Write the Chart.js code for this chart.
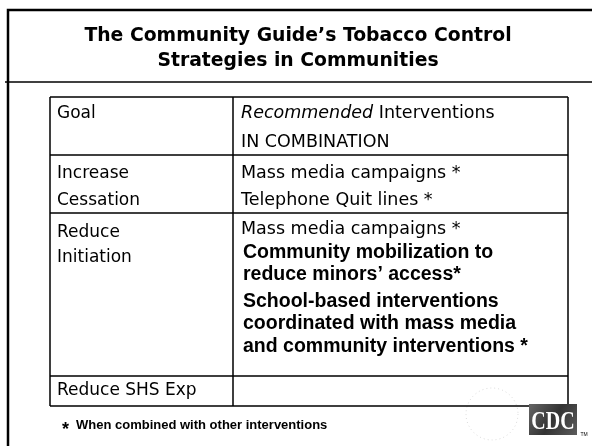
<!DOCTYPE html>
<html>
<head>
<meta charset="utf-8">
<script src="https://cdn.jsdelivr.net/npm/chart.js@4"></script>
<style>
  html, body { margin: 0; padding: 0; background: #fff; }
  #wrap { width: 592px; height: 446px; position: relative; }
</style>
</head>
<body>
<div id="wrap"><canvas id="slide" width="592" height="446"></canvas></div>
<script>
// slide content
const titleLines = ['The Community Guide\u2019s Tobacco Control', 'Strategies in Communities'];
const goals = [['Goal'], ['Increase', 'Cessation'], ['Reduce', 'Initiation'], ['Reduce SHS Exp']];
// "_x_" = italic span, leading "!" = bold Arial line
const interventions = [
    ['_Recommended_ Interventions', 'IN COMBINATION'],
    ['Mass media campaigns *', 'Telephone Quit lines *'],
    ['Mass media campaigns *', '!Community mobilization to', '!reduce minors\u2019 access*',
     '!School-based interventions', '!coordinated with mass media', '!and community interventions *'],
    []
];
const footnote = ['*', 'When combined with other interventions'];

// table layout (slide units)
const rowEdges = [97, 155, 213, 376, 406];
const colEdges = [50, 233, 568];
const goalBaselines = [[21, 50], [23, 50], [24, 49], [19]];
const intBaselines = [[21, 50], [23, 50], [21, 45, 67, 94, 116, 139], []];

const regFont = '"DejaVu Sans", sans-serif';
const boldFont = '"Liberation Sans", Arial, sans-serif';

function drawRich(ctx, str, x, y, size) {
    let parts = str.split('_');
    parts.forEach((p, i) => {
        ctx.font = (i % 2 ? 'italic ' : '') + size + 'px ' + regFont;
        ctx.fillText(p, x, y);
        x += ctx.measureText(p).width;
    });
}

const slidePlugin = {
    id: 'slide',
    afterDraw(chart) {
        const ctx = chart.ctx;
        const sx = chart.scales.x, sy = chart.scales.y;
        const X = v => sx.getPixelForValue(v);
        const Y = v => sy.getPixelForValue(v);
        ctx.save();
        ctx.fillStyle = '#000';
        ctx.strokeStyle = '#000';
        ctx.textBaseline = 'alphabetic';

        // outer frame
        ctx.lineWidth = 2.5;
        ctx.beginPath();
        ctx.moveTo(X(8), Y(446)); ctx.lineTo(X(8), Y(10)); ctx.lineTo(X(592), Y(10));
        ctx.stroke();
        ctx.lineWidth = 1.5;
        ctx.beginPath();
        ctx.moveTo(X(5), Y(82)); ctx.lineTo(X(592), Y(82));
        ctx.stroke();

        // title
        ctx.font = 'bold 18.8px "DejaVu Sans", sans-serif';
        ctx.textAlign = 'center';
        ctx.fillText(titleLines[0], X(298), Y(41));
        ctx.fillText(titleLines[1], X(298), Y(66));
        ctx.textAlign = 'left';

        // table grid
        ctx.lineWidth = 1.5;
        ctx.beginPath();
        rowEdges.forEach(r => { ctx.moveTo(X(colEdges[0]), Y(r)); ctx.lineTo(X(colEdges[2]), Y(r)); });
        colEdges.forEach(c => { ctx.moveTo(X(c), Y(rowEdges[0])); ctx.lineTo(X(c), Y(rowEdges[rowEdges.length - 1])); });
        ctx.stroke();

        // cells
        goals.forEach((lines, r) => {
            lines.forEach((t, i) => {
                ctx.font = '17px ' + regFont;
                ctx.fillText(t, X(colEdges[0] + 7), Y(rowEdges[r] + goalBaselines[r][i]));
            });
        });
        interventions.forEach((lines, r) => {
            lines.forEach((t, i) => {
                const y = Y(rowEdges[r] + intBaselines[r][i]);
                if (t[0] === '!') {
                    ctx.font = 'bold 19.5px ' + boldFont;
                    ctx.fillText(t.slice(1), X(colEdges[1] + 10), y);
                } else {
                    drawRich(ctx, t, X(colEdges[1] + 8), y, 17.5);
                }
            });
        });

        // footnote
        ctx.font = 'bold 18px ' + boldFont;
        ctx.fillText(footnote[0], X(62), Y(435));
        ctx.font = 'bold 13px ' + boldFont;
        ctx.fillText(footnote[1], X(76), Y(429));

        // faint seal behind logo
        ctx.strokeStyle = 'rgba(0,0,0,0.15)';
        ctx.setLineDash([1, 3]);
        ctx.lineWidth = 1;
        ctx.beginPath();
        ctx.arc(X(492), Y(414), 26, 0, Math.PI * 2);
        ctx.stroke();
        ctx.setLineDash([]);

        // CDC logo
        const lx = X(529), ly = Y(404), lw = X(577) - lx, lh = Y(435) - ly;
        const g = ctx.createLinearGradient(lx, ly, lx + lw, ly + lh);
        g.addColorStop(0, '#666');
        g.addColorStop(0.5, '#333');
        g.addColorStop(1, '#5c5c5c');
        ctx.fillStyle = g;
        ctx.fillRect(lx, ly, lw, lh);
        ctx.fillStyle = '#fff';
        ctx.font = 'bold 25px "Liberation Serif", serif';
        ctx.textAlign = 'center';
        ctx.save();
        ctx.translate(lx + lw / 2, ly + lh - 6);
        ctx.scale(0.8, 1);
        ctx.fillText('CDC', 0, 0);
        ctx.restore();
        ctx.fillStyle = '#000';
        ctx.font = '5px ' + boldFont;
        ctx.fillText('TM', X(584), Y(436));
        ctx.restore();
    }
};

new Chart(document.getElementById('slide').getContext('2d'), {
    type: 'scatter',
    data: { datasets: [{ data: [] }] },
    options: {
        responsive: false,
        animation: false,
        devicePixelRatio: 1,
        layout: { padding: 0 },
        plugins: { legend: { display: false }, tooltip: { enabled: false } },
        scales: {
            x: { type: 'linear', min: 0, max: 592, display: false },
            y: { type: 'linear', min: 0, max: 446, reverse: true, display: false }
        }
    },
    plugins: [slidePlugin]
});
</script>
</body>
</html>
